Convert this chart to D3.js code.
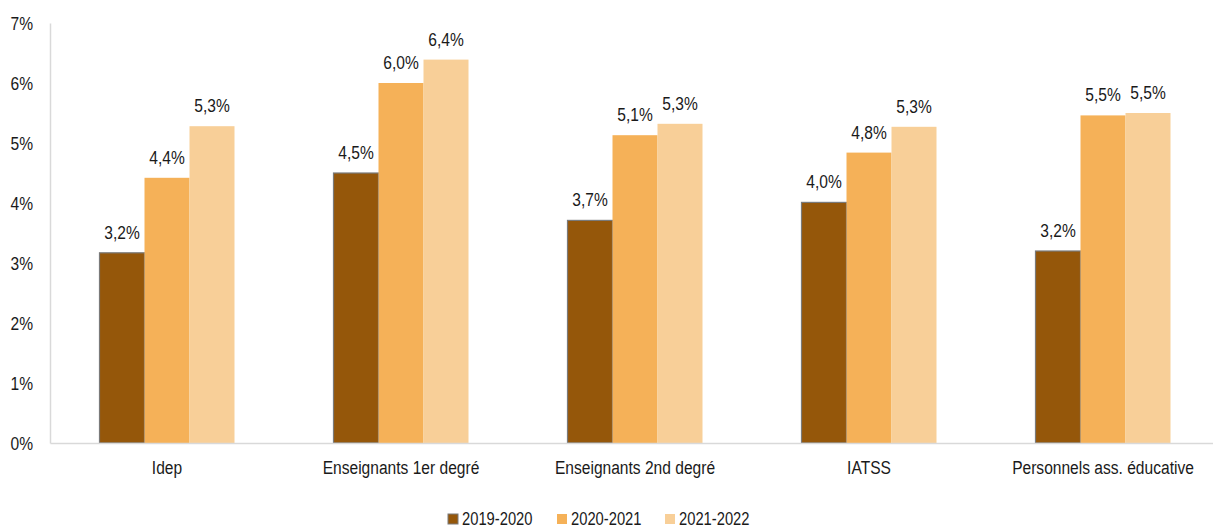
<!DOCTYPE html>
<html><head><meta charset="utf-8">
<script src="https://cdn.jsdelivr.net/npm/d3@7"></script>
<style>
body{margin:0;background:#fff;}
text{font-family:"Liberation Sans",Arial,sans-serif;fill:#1a1a1a;}
</style></head><body>
<svg id="c" width="1213" height="529"></svg>
<script>
const categories = ["Idep","Enseignants 1er degré","Enseignants 2nd degré","IATSS","Personnels ass. éducative"];
const seriesNames = ["2019-2020","2020-2021","2021-2022"];
const s2019 = [3.17,4.50,3.71,4.01,3.20];
const s2020 = [4.42,6.00,5.13,4.84,5.46];
const s2021 = [5.28,6.39,5.32,5.27,5.50];
const yTicks = [0,1,2,3,4,5,6,7];
const colors = ["#95570a","#f5b158","#f8cf98"];

const SX = 0.82;
// condense text horizontally (Arial Narrow look)
function narrow(sel){
  sel.each(function(){
    const t = d3.select(this);
    const x = +(t.attr("x")||0);
    t.attr("x", x/SX).attr("transform", `scale(${SX},1)`);
  });
}

const seriesVals = [s2019,s2020,s2021];
const svg = d3.select("#c");
const x0 = d3.scaleBand().domain(categories).range([50,1220]).paddingInner(0).paddingOuter(0);
const bw = 45;
const x1 = d3.scaleBand().domain(seriesNames).range([0,bw*3]);
const y = d3.scaleLinear().domain([0,7]).range([443,23]);
const fmt = v => d3.format(".1f")(v).replace(".",",")+"%";

// axes
const yAx = svg.append("g").attr("transform","translate(50,0)")
  .call(d3.axisLeft(y).tickValues(yTicks).tickSize(0).tickPadding(17).tickFormat(d=>d+"%"));
yAx.select(".domain").attr("stroke","#d9d9d9").attr("stroke-width",1.5);
yAx.selectAll("text").style("font-size","19px").attr("fill","#1a1a1a").call(narrow);

const g = svg.append("g");
categories.forEach((c,i)=>{
  const gx = x0(c) + (x0.bandwidth()-bw*3)/2;
  seriesNames.forEach((s,j)=>{
    const v = seriesVals[j][i];
    g.append("rect").attr("x",gx+x1(s)).attr("y",y(v)).attr("width",x1.bandwidth()).attr("height",y(0)-y(v))
      .attr("fill",colors[j]).attr("stroke",j===0?"#7a7a7a":"none").attr("stroke-width",j===0?1.2:0);
    g.append("text").attr("x",gx+x1(s)+x1.bandwidth()/2).attr("y",y(v)-14).attr("text-anchor","middle")
      .style("font-size","19px").text(fmt(v)).call(narrow);
  });
});

const xAx = svg.append("g").attr("transform","translate(0,443)")
  .call(d3.axisBottom(x0).tickSize(0).tickPadding(18));
xAx.select(".domain").attr("stroke","#d9d9d9").attr("stroke-width",1.5);
xAx.selectAll("text").style("font-size","19px").attr("fill","#1a1a1a").call(narrow);

// legend
const lx = [448,557,665];
const leg = svg.append("g");
seriesNames.forEach((s,j)=>{
  leg.append("rect").attr("x",lx[j]).attr("y",514).attr("width",10).attr("height",10)
    .attr("fill",colors[j]).attr("stroke",j===0?"#7a7a7a":"none");
  leg.append("text").attr("x",lx[j]+14).attr("y",525).style("font-size","18px").text(s).call(narrow);
});
</script></body></html>
